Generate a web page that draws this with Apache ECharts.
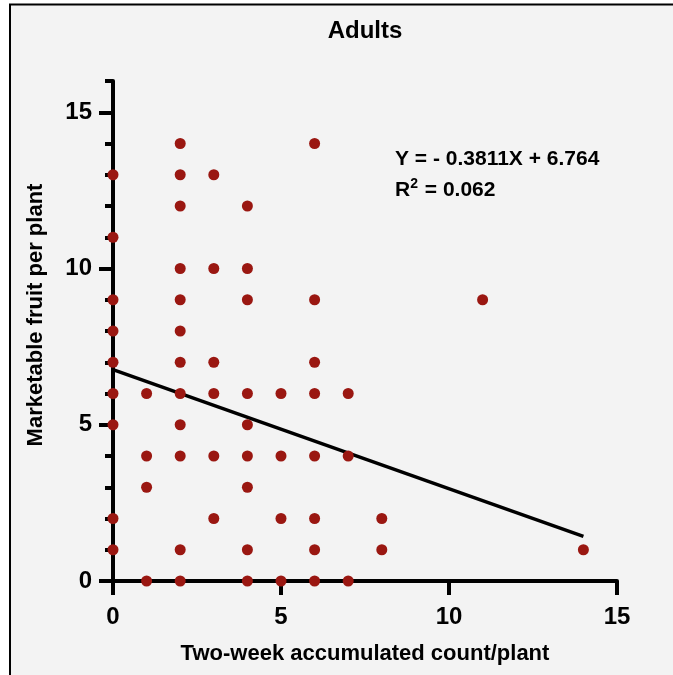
<!DOCTYPE html>
<html>
<head>
<meta charset="utf-8">
<script src="https://cdn.jsdelivr.net/npm/echarts@6/dist/echarts.min.js"></script>
<style>
  html, body { margin: 0; padding: 0; background: #fff; }
  #chart { width: 673px; height: 675px; }
</style>
</head>
<body>
<div id="chart"></div>
<script>
// count per plant (x) and the fruit values seen at each count (y)
const xCounts = [0, 1, 2, 3, 4, 5, 6, 7, 8, 11, 14];
const fruitByCount = [
  [1, 2, 5, 6, 7, 8, 9, 11, 13],
  [0, 3, 4, 6],
  [0, 1, 4, 5, 6, 7, 8, 9, 10, 12, 13, 14],
  [2, 4, 6, 7, 10, 13],
  [0, 1, 3, 4, 5, 6, 9, 10, 12],
  [0, 2, 4, 6],
  [0, 1, 2, 4, 6, 7, 9, 14],
  [0, 4, 6],
  [1, 2],
  [9],
  [1]
];
const majorTicks = [0, 5, 10, 15];
const slope = -0.3811;
const intercept = 6.764;
const rSquared = '0.062';

const points = [];
xCounts.forEach((x, i) => {
  fruitByCount[i].forEach((y) => points.push([x, y]));
});
const xEnd = Math.max(...xCounts);
const fitLine = [[0, intercept], [xEnd, intercept + slope * xEnd]];

const font = 'Liberation Sans';
const axisLine = { lineStyle: { color: '#000', width: 4 } };

const chart = echarts.init(document.getElementById('chart'));
chart.setOption({
  animation: false,
  backgroundColor: '#fff',
  textStyle: { fontFamily: font },
  grid: { left: 113, right: 56, top: 81, bottom: 94 },
  graphic: [
    {
      type: 'rect', z: -10, silent: true,
      shape: { x: 10, y: 4.5, width: 700, height: 700 },
      style: { fill: '#f3f3f3', stroke: '#000', lineWidth: 2 }
    },
    {
      type: 'text', x: 365, y: 31,
      style: { text: 'Adults', font: 'bold 24px ' + font, fill: '#000', textAlign: 'center', textVerticalAlign: 'middle' }
    },
    {
      type: 'text', x: 36, y: 315, rotation: Math.PI / 2,
      style: { text: 'Marketable fruit per plant', font: 'bold 22px ' + font, fill: '#000', textAlign: 'center', textVerticalAlign: 'middle' }
    },
    {
      type: 'text', x: 395, y: 149,
      style: { text: 'Y = - 0.3811X + 6.764', font: 'bold 21px ' + font, fill: '#000' }
    },
    {
      type: 'text', x: 395, y: 177,
      style: {
        text: '{a|R}{s|2}{a| = ' + rSquared + '}',
        fill: '#000',
        rich: {
          a: { fontFamily: font, fontWeight: 'bold', fontSize: 21, lineHeight: 24, verticalAlign: 'bottom' },
          s: { fontFamily: font, fontWeight: 'bold', fontSize: 14, lineHeight: 24, verticalAlign: 'top', padding: [0, 1, 0, 0] }
        }
      }
    }
  ],
  xAxis: {
    type: 'value', min: 0, max: 15, interval: 5,
    splitLine: { show: false },
    axisLine: axisLine,
    axisTick: { length: 14, lineStyle: { color: '#000', width: 4 } },
    axisLabel: { color: '#000', fontSize: 24, fontWeight: 'bold', margin: 24 },
    name: 'Two-week accumulated count/plant',
    nameLocation: 'middle', nameGap: 62,
    nameTextStyle: { color: '#000', fontSize: 22, fontWeight: 'bold' }
  },
  yAxis: [
    {
      type: 'value', min: 0, max: 16, interval: 1,
      splitLine: { show: false },
      axisLine: axisLine,
      axisTick: { length: 8, lineStyle: { color: '#000', width: 4 } },
      axisLabel: { show: false }
    },
    {
      type: 'value', min: 0, max: 16, position: 'left',
      splitLine: { show: false },
      axisLine: { show: false },
      axisTick: { length: 14, customValues: majorTicks, lineStyle: { color: '#000', width: 4 } },
      axisLabel: { customValues: majorTicks, color: '#000', fontSize: 24, fontWeight: 'bold', margin: 21 }
    }
  ],
  series: [
    {
      type: 'line', data: fitLine, symbol: 'none', z: 3,
      lineStyle: { color: '#000', width: 3.5 }
    },
    {
      type: 'scatter', data: points, symbolSize: 11, z: 4,
      itemStyle: { color: '#9a1711', opacity: 1 }
    }
  ]
});
</script>
</body>
</html>
